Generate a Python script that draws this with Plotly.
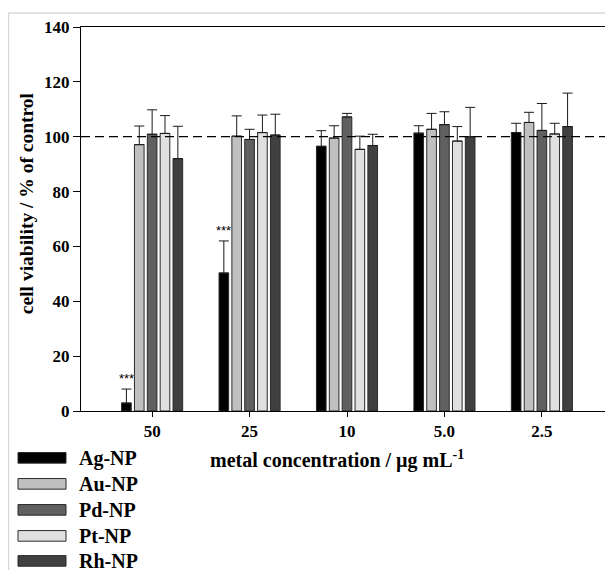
import plotly.graph_objects as go

categories = ["50", "25", "10", "5.0", "2.5"]
series_names = ["Ag-NP", "Au-NP", "Pd-NP", "Pt-NP", "Rh-NP"]
colors = ["#000000", "#c0c0c0", "#606060", "#e0e0e0", "#404040"]

ag_vals = [2.9, 50.3, 96.5, 101.3, 101.5]
au_vals = [97.1, 100.2, 99.5, 102.7, 105.2]
pd_vals = [100.9, 99.0, 107.2, 104.4, 102.3]
pt_vals = [101.2, 101.5, 95.4, 98.4, 101.0]
rh_vals = [92.0, 100.6, 96.8, 100.0, 103.7]

ag_err = [5.1, 11.7, 5.7, 2.7, 3.4]
au_err = [6.8, 7.4, 4.5, 5.8, 3.7]
pd_err = [8.9, 3.7, 1.3, 4.7, 9.8]
pt_err = [6.5, 6.4, 4.8, 5.3, 3.9]
rh_err = [11.8, 7.6, 4.1, 10.7, 12.2]

values = [ag_vals, au_vals, pd_vals, pt_vals, rh_vals]
errors = [ag_err, au_err, pd_err, pt_err, rh_err]

y_ticks = [0, 20, 40, 60, 80, 100, 120, 140]
control_level = 100
signif_label = "***"
signif_points = [0, 1]  # indices of Ag-NP bars marked significant

# page has an 8px body margin; figure sized to fit the 613x570 window
OFF = 8
W, H = 613 - OFF, 570 - OFF
L, R, T, B = 81 - OFF, 0, 27 - OFF, H - (410.7 - OFF)
PW, PH = W - L - R, H - T - B

def px_x(sx):  # screen px -> paper
    return (sx - OFF - L) / PW

def px_y(sy):
    return (H - B - (sy - OFF)) / PH

FONT = "Liberation Serif"

fig = go.Figure()
for name, col, vals, errs in zip(series_names, colors, values, errors):
    fig.add_trace(go.Bar(
        x=categories, y=vals, name=name,
        marker=dict(color=col, line=dict(color="#2a2a2a", width=1)),
        error_y=dict(type="data", symmetric=False, array=errs,
                     arrayminus=[0] * len(errs), color="#1a1a1a",
                     thickness=1, width=5),
        showlegend=False,
    ))

n_series = len(series_names)
bargap = 0.34
slot = (1 - bargap) / n_series
for i in signif_points:
    xpos = i - (n_series - 1) / 2 * slot
    fig.add_annotation(x=xpos, y=ag_vals[i] + ag_err[i], xref="x", yref="y",
                       text=signif_label, showarrow=False, yanchor="bottom",
                       yshift=1, font=dict(family="Arial", size=13, color="#000"))

# dashed control line
fig.add_shape(type="line", xref="paper", yref="y", x0=0, x1=1.05,
              y0=control_level, y1=control_level,
              line=dict(color="#000", width=1.3, dash="9px,5px"))

# outer light frame
fig.add_shape(type="line", xref="paper", yref="paper", x0=px_x(8.5), x1=1.05,
              y0=px_y(13), y1=px_y(13), line=dict(color="#d8d8d8", width=1.5))
fig.add_shape(type="line", xref="paper", yref="paper", x0=px_x(8.5), x1=px_x(8.5),
              y0=px_y(13), y1=px_y(575), line=dict(color="#d8d8d8", width=1.5))

# custom legend
row_y = [457.5, 483.5, 509.5, 535.5, 560.5]
for name, col, ry in zip(series_names, colors, row_y):
    fig.add_shape(type="rect", xref="paper", yref="paper",
                  x0=px_x(18), x1=px_x(66), y0=px_y(ry - 5.3), y1=px_y(ry + 5.3),
                  fillcolor=col, line=dict(color="#2a2a2a", width=1))
    fig.add_annotation(x=px_x(77), y=px_y(ry + 0.5), xref="paper", yref="paper",
                       text=name, showarrow=False, xanchor="left",
                       yanchor="middle",
                       font=dict(family=FONT, size=20, color="#000", weight="bold"))

# axis titles
fig.add_annotation(x=px_x(337), y=px_y(459), xref="paper", yref="paper",
                   text="metal concentration / µg mL<sup>-1</sup>",
                   showarrow=False, xanchor="center", yanchor="middle",
                   font=dict(family=FONT, size=20, color="#000", weight="bold"))
fig.add_annotation(x=px_x(26), y=px_y(203), xref="paper", yref="paper",
                   text="cell viability / % of control", textangle=-90,
                   showarrow=False, xanchor="center", yanchor="middle",
                   font=dict(family=FONT, size=19.5, color="#000", weight="bold"))

fig.update_layout(
    width=W, height=H,
    margin=dict(l=L, r=R, t=T, b=B, autoexpand=False),
    paper_bgcolor="white", plot_bgcolor="white",
    barmode="group", bargap=bargap, bargroupgap=0.25,
    showlegend=False,
    font=dict(family=FONT, color="#000"),
)
fig.update_xaxes(
    type="category", range=[-0.73, 4.73],
    showline=True, linecolor="#000", linewidth=1, mirror=True,
    ticks="outside", ticklen=5, tickcolor="#000",
    tickfont=dict(family=FONT, size=17, color="#000", weight="bold"),
    showgrid=False, zeroline=False,
)
fig.update_yaxes(
    range=[0, 140], tickvals=y_ticks,
    showline=True, linecolor="#000", linewidth=1,
    ticks="outside", ticklen=7, tickcolor="#000",
    tickfont=dict(family=FONT, size=17, color="#000", weight="bold"),
    showgrid=False, zeroline=False,
)

fig.write_html("out.html")
